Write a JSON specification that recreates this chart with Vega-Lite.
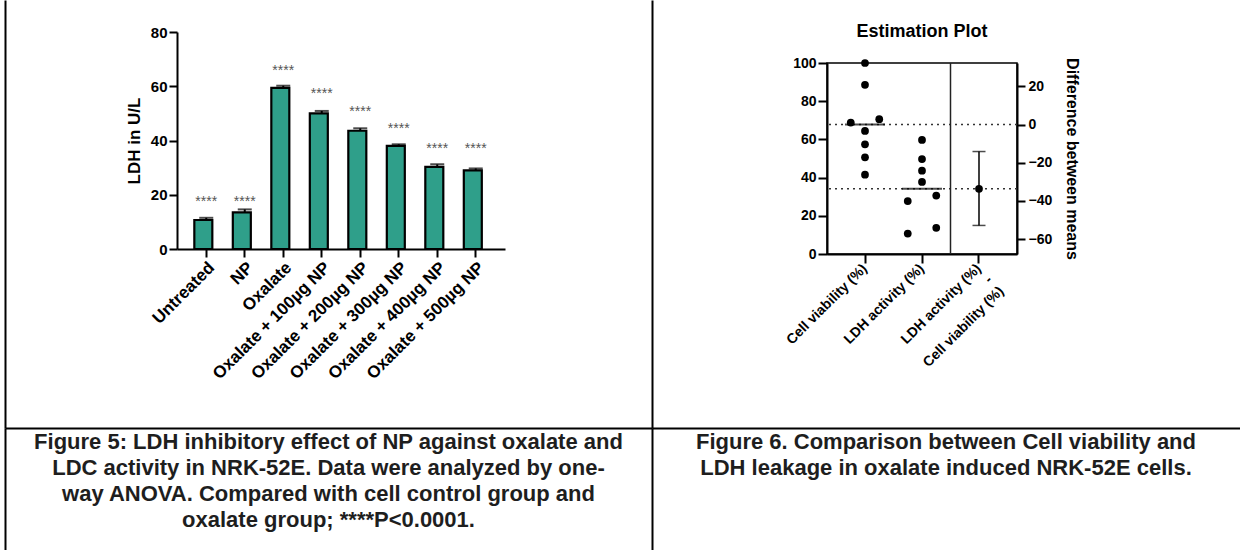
{
  "$schema": "https://vega.github.io/schema/vega-lite/v6.json",
  "padding": {"left": 5, "top": 0, "right": 0, "bottom": 0},
  "background": "white",
  "config": {
    "view": {"stroke": null},
    "axis": {
      "domainColor": "black", "tickColor": "black", "labelColor": "black", "titleColor": "black",
      "labelFont": "Liberation Sans", "titleFont": "Liberation Sans",
      "labelFontWeight": "bold", "titleFontWeight": "bold", "grid": false, "labelOverlap": false
    },
    "text": {"font": "Liberation Sans"}
  },
  "datasets": {
    "bars": [
      {"group": "Untreated", "ldh": 10.7, "upper": 11.5, "star_y": 17.3, "sig": "****"},
      {"group": "NP", "ldh": 13.5, "upper": 14.6, "star_y": 17.3, "sig": "****"},
      {"group": "Oxalate", "ldh": 59.4, "upper": 60.2, "star_y": 65.6, "sig": "****"},
      {"group": "Oxalate + 100µg NP", "ldh": 50.0, "upper": 50.9, "star_y": 57.1, "sig": "****"},
      {"group": "Oxalate + 200µg NP", "ldh": 43.6, "upper": 44.5, "star_y": 50.4, "sig": "****"},
      {"group": "Oxalate + 300µg NP", "ldh": 38.0, "upper": 38.6, "star_y": 44.2, "sig": "****"},
      {"group": "Oxalate + 400µg NP", "ldh": 30.3, "upper": 31.2, "star_y": 36.8, "sig": "****"},
      {"group": "Oxalate + 500µg NP", "ldh": 29.0, "upper": 29.7, "star_y": 36.8, "sig": "****"}
    ],
    "est_points": [
      {"group": "Cell viability (%)", "value": 100, "side": "C"},
      {"group": "Cell viability (%)", "value": 88.6, "side": "C"},
      {"group": "Cell viability (%)", "value": 68.8, "side": "L"},
      {"group": "Cell viability (%)", "value": 70.6, "side": "R"},
      {"group": "Cell viability (%)", "value": 64.4, "side": "C"},
      {"group": "Cell viability (%)", "value": 57.4, "side": "C"},
      {"group": "Cell viability (%)", "value": 50.6, "side": "C"},
      {"group": "Cell viability (%)", "value": 41.5, "side": "C"},
      {"group": "LDH activity (%)", "value": 59.7, "side": "C"},
      {"group": "LDH activity (%)", "value": 49.7, "side": "C"},
      {"group": "LDH activity (%)", "value": 43.6, "side": "C"},
      {"group": "LDH activity (%)", "value": 37.7, "side": "C"},
      {"group": "LDH activity (%)", "value": 27.7, "side": "L"},
      {"group": "LDH activity (%)", "value": 30.6, "side": "R"},
      {"group": "LDH activity (%)", "value": 10.7, "side": "L"},
      {"group": "LDH activity (%)", "value": 13.7, "side": "R"}
    ],
    "est_means": [
      {"group": "Cell viability (%)", "mean": 67.75},
      {"group": "LDH activity (%)", "mean": 34.2}
    ],
    "est_diff": [
      {"group": "Difference", "diff": -33.6, "lower": -52.8, "upper": -14.1}
    ],
    "cap5": [
      {"line": 0, "text": "Figure 5: LDH inhibitory effect of NP against oxalate and"},
      {"line": 1, "text": "LDC activity in NRK-52E. Data were analyzed by one-"},
      {"line": 2, "text": "way ANOVA. Compared with cell control group and"},
      {"line": 3, "text": "oxalate group; ****P<0.0001."}
    ],
    "cap6": [
      {"line": 0, "text": "Figure 6. Comparison between Cell viability and"},
      {"line": 1, "text": "LDH leakage in oxalate induced NRK-52E cells."}
    ]
  },
  "spacing": 0,
  "vconcat": [
    {
      "spacing": 0,
      "hconcat": [
        {
          "width": 120, "height": 428,
          "data": {"values": []},
          "mark": {"type": "point", "opacity": 0},
          "encoding": {
            "y": {"datum": 0.5, "type": "quantitative", "scale": {"domain": [0, 1]},
                  "axis": {"domain": true, "domainWidth": 2, "ticks": false, "labels": false, "title": null}}
          }
        },
        {
          "spacing": 0,
          "vconcat": [
            {"width": 1, "height": 25, "data": {"values": []}, "mark": {"type": "point", "opacity": 0}},
            {
              "width": 328, "height": 217,
              "data": {"name": "bars"},
              "layer": [
                {
                  "mark": {"type": "bar", "fill": "#2f9f8a", "stroke": "black", "strokeWidth": 2.2},
                  "encoding": {
                    "x": {"field": "group", "type": "nominal", "sort": null,
                          "scale": {"paddingInner": 0.38, "paddingOuter": 0.45},
                          "axis": {"title": null, "labelAngle": -45, "labelFontSize": 17, "labelBaseline": "top",
                                   "tickSize": 8, "tickWidth": 2, "domainWidth": 2, "labelPadding": 2}},
                    "y": {"field": "ldh", "type": "quantitative", "scale": {"domain": [0, 80], "nice": false},
                          "axis": {"title": "LDH in U/L", "titleFontSize": 17, "values": [0, 20, 40, 60, 80],
                                   "labelFontSize": 15, "tickSize": 8, "tickWidth": 2, "domainWidth": 2,
                                   "labelPadding": 2, "titlePadding": 7}}
                  }
                },
                {
                  "mark": {"type": "rule", "strokeWidth": 2, "color": "black"},
                  "encoding": {
                    "x": {"field": "group", "type": "nominal", "sort": null},
                    "y": {"field": "ldh", "type": "quantitative"},
                    "y2": {"field": "upper"}
                  }
                },
                {
                  "mark": {"type": "tick", "thickness": 2, "size": 14, "color": "black"},
                  "encoding": {
                    "x": {"field": "group", "type": "nominal", "sort": null},
                    "y": {"field": "upper", "type": "quantitative"}
                  }
                },
                {
                  "mark": {"type": "text", "fontSize": 14, "color": "#555", "baseline": "middle"},
                  "encoding": {
                    "x": {"field": "group", "type": "nominal", "sort": null},
                    "y": {"field": "star_y", "type": "quantitative"},
                    "text": {"field": "sig"}
                  }
                }
              ]
            }
          ]
        },
        {"width": 147, "height": 1, "data": {"values": []}, "mark": {"type": "point", "opacity": 0}},
        {
          "width": 130, "height": 428,
          "data": {"values": []},
          "mark": {"type": "point", "opacity": 0},
          "encoding": {
            "y": {"datum": 0.5, "type": "quantitative", "scale": {"domain": [0, 1]},
                  "axis": {"domain": true, "domainWidth": 2, "ticks": false, "labels": false, "title": null}}
          }
        },
        {
          "spacing": 0,
          "vconcat": [
            {"width": 1, "height": 22, "data": {"values": []}, "mark": {"type": "point", "opacity": 0}},
            {
              "title": {"text": "Estimation Plot", "fontSize": 18, "font": "Liberation Sans", "fontWeight": "bold",
                        "offset": 15, "color": "black", "frame": "group"},
              "width": 190, "height": 191,
              "view": {"stroke": "black", "strokeWidth": 1.5},
              "layer": [
                {
                  "layer": [
                    {
                      "data": {"name": "est_means"},
                      "mark": {"type": "rule", "strokeDash": [2, 4], "strokeWidth": 1.5, "color": "#333"},
                      "encoding": {
                        "y": {"field": "mean", "type": "quantitative", "title": null,
                              "scale": {"domain": [0, 100], "nice": false},
                              "axis": {"title": null, "values": [0, 20, 40, 60, 80, 100], "labelFontSize": 14,
                                       "tickSize": 9, "tickWidth": 2, "domainWidth": 2, "labelPadding": 2}}
                      }
                    },
                    {
                      "data": {"values": [{"group": "Difference"}]},
                      "mark": {"type": "rule", "strokeWidth": 1.5, "color": "#222"},
                      "encoding": {
                        "x": {"field": "group", "type": "nominal", "bandPosition": 0, "title": null,
                              "scale": {"domain": ["Cell viability (%)", "LDH activity (%)", "Difference"], "paddingInner": 0, "paddingOuter": 0.1667}}
                      }
                    },
                    {
                      "data": {"name": "est_points"},
                      "mark": {"type": "point", "filled": true, "size": 60, "color": "black", "opacity": 1},
                      "encoding": {
                        "x": {"field": "group", "type": "nominal", "title": null,
                              "scale": {"domain": ["Cell viability (%)", "LDH activity (%)", "Difference"], "paddingInner": 0, "paddingOuter": 0.1667},
                              "axis": {"title": null, "labelAngle": -45, "labelFontSize": 14, "labelBaseline": "middle",
                                       "labelExpr": "datum.value == 'Difference' ? ['LDH activity (%)', '-', 'Cell viability (%)'] : datum.label",
                                       "labelLineHeight": 16, "tickSize": 9, "tickWidth": 2, "domainWidth": 2, "labelPadding": 3}},
                        "xOffset": {"field": "side", "type": "nominal",
                                    "scale": {"domain": ["L", "C", "R"], "paddingInner": 0, "paddingOuter": 2.06}},
                        "y": {"field": "value", "type": "quantitative", "title": null,
                              "scale": {"domain": [0, 100], "nice": false},
                              "axis": {"title": null, "values": [0, 20, 40, 60, 80, 100], "labelFontSize": 14,
                                       "tickSize": 9, "tickWidth": 2, "domainWidth": 2, "labelPadding": 2}}
                      }
                    },
                    {
                      "data": {"name": "est_means"},
                      "mark": {"type": "tick", "size": 40, "thickness": 2, "color": "black"},
                      "encoding": {
                        "x": {"field": "group", "type": "nominal", "title": null,
                              "scale": {"domain": ["Cell viability (%)", "LDH activity (%)", "Difference"], "paddingInner": 0, "paddingOuter": 0.1667}},
                        "y": {"field": "mean", "type": "quantitative", "title": null,
                              "scale": {"domain": [0, 100], "nice": false},
                              "axis": {"title": null, "values": [0, 20, 40, 60, 80, 100], "labelFontSize": 14,
                                       "tickSize": 9, "tickWidth": 2, "domainWidth": 2, "labelPadding": 2}}
                      }
                    }
                  ]
                },
                {
                  "data": {"name": "est_diff"},
                  "layer": [
                    {
                      "mark": {"type": "rule", "strokeWidth": 1.5, "color": "black"},
                      "encoding": {
                        "x": {"field": "group", "type": "nominal", "title": null},
                        "y": {"field": "lower", "type": "quantitative", "title": "Difference between means",
                              "scale": {"domain": [-67.75, 32.25], "nice": false, "zero": false},
                              "axis": {"orient": "right", "title": "Difference between means", "titleFontSize": 16,
                                       "values": [-60, -40, -20, 0, 20], "labelFontSize": 14, "tickSize": 8, "tickWidth": 2,
                                       "domainWidth": 2, "labelPadding": 3, "titlePadding": 12}},
                        "y2": {"field": "upper"}
                      }
                    },
                    {
                      "mark": {"type": "tick", "size": 13, "thickness": 1.5, "color": "black"},
                      "encoding": {
                        "x": {"field": "group", "type": "nominal", "title": null},
                        "y": {"field": "lower", "type": "quantitative", "title": "Difference between means"}
                      }
                    },
                    {
                      "mark": {"type": "tick", "size": 13, "thickness": 1.5, "color": "black"},
                      "encoding": {
                        "x": {"field": "group", "type": "nominal", "title": null},
                        "y": {"field": "upper", "type": "quantitative", "title": "Difference between means"}
                      }
                    },
                    {
                      "mark": {"type": "point", "filled": true, "size": 60, "color": "black", "opacity": 1},
                      "encoding": {
                        "x": {"field": "group", "type": "nominal", "title": null},
                        "y": {"field": "diff", "type": "quantitative", "title": "Difference between means"}
                      }
                    }
                  ]
                }
              ],
              "resolve": {"scale": {"y": "independent"}}
            }
          ]
        }
      ]
    },
    {
      "spacing": 0,
      "hconcat": [
        {
          "width": 647, "height": 122,
          "data": {"name": "cap5"},
          "mark": {"type": "text", "fontSize": 22, "fontWeight": "bold", "color": "#1e1e1e", "align": "center", "baseline": "middle", "font": "Liberation Sans"},
          "encoding": {
            "x": {"datum": 0.5, "type": "quantitative", "scale": {"domain": [0, 1]},
                  "axis": {"orient": "top", "domain": true, "domainWidth": 2, "ticks": false, "labels": false, "title": null}},
            "y": {"field": "line", "type": "quantitative", "scale": {"domain": [-0.538, 4.154], "reverse": true, "nice": false, "zero": false},
                  "axis": {"domain": true, "domainWidth": 2, "ticks": false, "labels": false, "title": null}},
            "text": {"field": "text"}
          }
        },
        {
          "width": 588, "height": 122,
          "data": {"name": "cap6"},
          "mark": {"type": "text", "fontSize": 22, "fontWeight": "bold", "color": "#1e1e1e", "align": "center", "baseline": "middle", "font": "Liberation Sans"},
          "encoding": {
            "x": {"datum": 0.5, "type": "quantitative", "scale": {"domain": [0, 1]},
                  "axis": {"orient": "top", "domain": true, "domainWidth": 2, "ticks": false, "labels": false, "title": null}},
            "y": {"field": "line", "type": "quantitative", "scale": {"domain": [-0.538, 4.154], "reverse": true, "nice": false, "zero": false},
                  "axis": {"domain": true, "domainWidth": 2, "ticks": false, "labels": false, "title": null}},
            "text": {"field": "text"}
          }
        }
      ]
    }
  ]
}
